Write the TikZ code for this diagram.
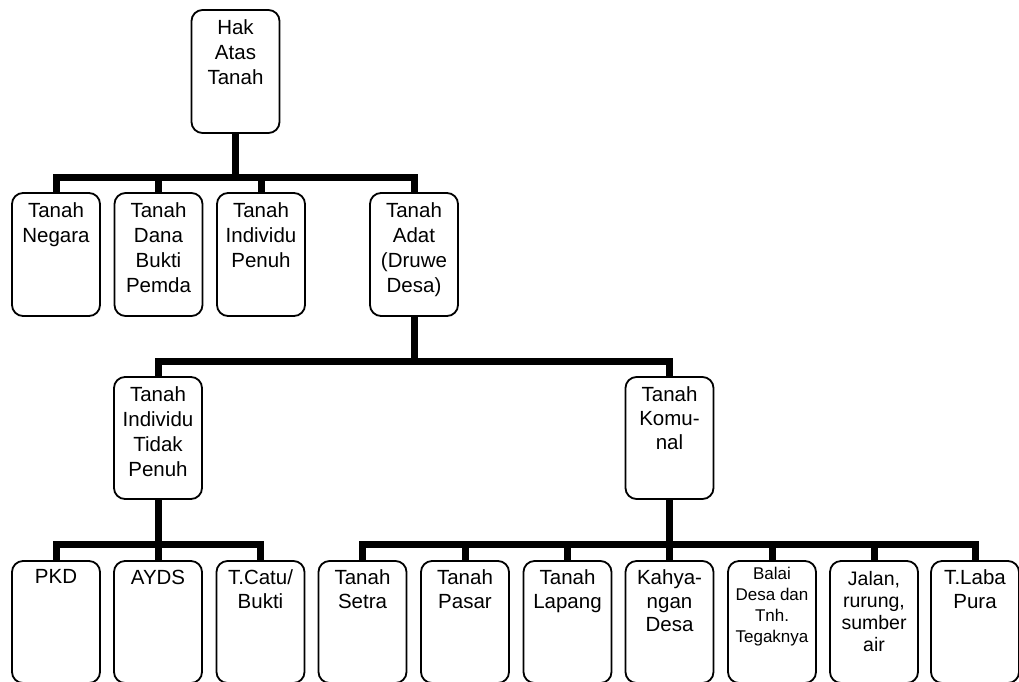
\documentclass[tikz,border=0pt]{standalone}
\usepackage{fontspec}
\setmainfont{Liberation Sans}
\begin{document}
\begin{tikzpicture}[x=1pt,y=-1pt,
  box/.style={draw, line width=1.8pt, rounded corners=11pt, minimum width=88pt, minimum height=123pt, inner sep=0pt},
  lbl/.style={anchor=north, align=center, inner sep=0pt, font=\fontsize{20.5}{25}\selectfont},
  conn/.style={line width=7pt, line join=miter}]
\clip (0,0) rectangle (1019,681);
% level 0
\node[box] (hak) at (235.5,71.5) {};
% level 1
\node[box] (neg) at (56,254.5) {};
\node[box] (dana) at (158.5,254.5) {};
\node[box] (indp) at (261,254.5) {};
\node[box] (adat) at (414,254.5) {};
% level 2
\node[box, minimum height=122pt] (itp) at (158,438) {};
\node[box, minimum height=122pt] (kom) at (669.5,438) {};
% level 3
\node[box, minimum height=122pt] (pkd) at (56,622) {};
\node[box, minimum height=122pt] (ayds) at (158,622) {};
\node[box, minimum height=122pt] (catu) at (260.5,622) {};
\node[box, minimum height=122pt] (setra) at (362.5,622) {};
\node[box, minimum height=122pt] (pasar) at (465,622) {};
\node[box, minimum height=122pt] (lapang) at (567.5,622) {};
\node[box, minimum height=122pt] (kahy) at (669.5,622) {};
\node[box, minimum height=122pt] (balai) at (772,622) {};
\node[box, minimum height=122pt] (jalan) at (874,622) {};
\node[box, minimum height=122pt] (laba) at (975,622) {};
% texts
\node[lbl] (thak) at ([yshift=-10pt]hak.north) {Hak\\Atas\\Tanah};
\node[lbl] (tneg) at ([yshift=-10pt]neg.north) {Tanah\\Negara};
\node[lbl] (tdana) at ([yshift=-10pt]dana.north) {Tanah\\Dana\\Bukti\\Pemda};
\node[lbl] (tindp) at ([yshift=-10pt]indp.north) {Tanah\\Individu\\Penuh};
\node[lbl] (tadat) at ([yshift=-10pt]adat.north) {Tanah\\Adat\\(Druwe\\Desa)};
\node[lbl] (titp) at ([yshift=-10pt]itp.north) {Tanah\\Individu\\Tidak\\Penuh};
\node[lbl, font=\fontsize{20.5}{24}\selectfont] (tkom) at ([yshift=-10pt]kom.north) {Tanah\\Komu-\\nal};
\node[lbl] (tpkd) at ([yshift=-9.5pt]pkd.north) {PKD};
\node[lbl] (tayds) at ([yshift=-9.5pt]ayds.north) {AYDS};
\node[lbl, font=\fontsize{20.5}{23.5}\selectfont] (tcatu) at ([yshift=-9.5pt]catu.north) {T.Catu/\\Bukti};
\node[lbl, font=\fontsize{20.5}{23.5}\selectfont] (tsetra) at ([yshift=-9.5pt]setra.north) {Tanah\\Setra};
\node[lbl, font=\fontsize{20.5}{23.5}\selectfont] (tpasar) at ([yshift=-9.5pt]pasar.north) {Tanah\\Pasar};
\node[lbl, font=\fontsize{20.5}{23.5}\selectfont] (tlapang) at ([yshift=-9.5pt]lapang.north) {Tanah\\Lapang};
\node[lbl, font=\fontsize{20.5}{23.5}\selectfont] (tkahy) at ([yshift=-9.5pt]kahy.north) {Kahya-\\ngan\\Desa};
\node[lbl, font=\fontsize{17}{21}\selectfont] (tbalai) at ([yshift=-7pt]balai.north) {Balai\\Desa dan\\Tnh.\\Tegaknya};
\node[lbl, font=\fontsize{19.5}{22}\selectfont] (tjalan) at ([yshift=-11pt]jalan.north) {Jalan,\\rurung,\\sumber\\air};
\node[lbl, font=\fontsize{20.5}{23.5}\selectfont] (tlaba) at ([yshift=-9.5pt]laba.north) {T.Laba\\Pura};
% connectors
\foreach \c in {neg,dana,indp,adat}
  \draw[conn] (hak.south) -- ++(0,44) -| (\c.north);
\foreach \c in {itp,kom}
  \draw[conn] (adat.south) -- ++(0,45) -| (\c.north);
\foreach \c in {pkd,ayds,catu}
  \draw[conn] (itp.south) -- ++(0,45) -| (\c.north);
\foreach \c in {setra,pasar,lapang,kahy,balai,jalan,laba}
  \draw[conn] (kom.south) -- ++(0,45) -| (\c.north);
\end{tikzpicture}
\end{document}
